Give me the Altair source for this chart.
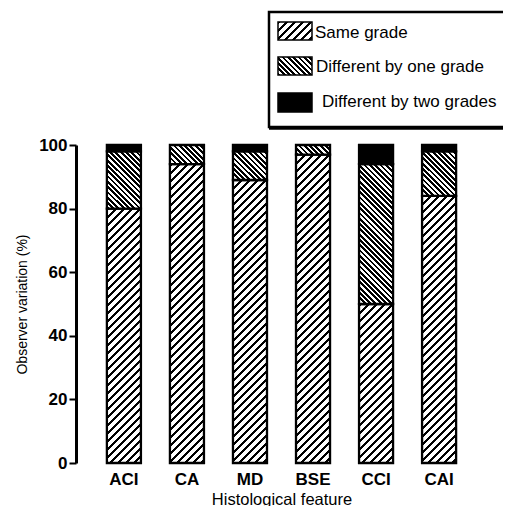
import altair as alt
import pandas as pd

features = ["ACI", "CA", "MD", "BSE", "CCI", "CAI"]
same_grade = [80, 94, 89, 97, 50, 84]
one_grade = [18, 6, 9, 3, 44, 14]
two_grades = [2, 0, 2, 0, 6, 2]
grades = ["Same grade", "Different by one grade", "Different by two grades"]
y_ticks = [0, 20, 40, 60, 80, 100]

WIDTH, HEIGHT = 411, 318
PX = HEIGHT / 100.0
BAR_W = 34.0
FONT = "Liberation Sans"

rows = []
for i, f in enumerate(features):
    for k, (g, vals) in enumerate(zip(grades, [same_grade, one_grade, two_grades])):
        rows.append({"feature": f, "grade": g, "order": k, "value": vals[i]})
df = pd.DataFrame(rows)


def hatch(w, h, period, black, slant):
    L = w + h
    s = L / (w * w + h * h)
    if slant == "/":
        x1, y1, x2, y2 = 0, 0, w * s, h * s
    else:
        x1, y1, x2, y2 = 0, 1, w * s, 1 - h * s
    stops = []
    pos = 0.0
    while pos < L:
        a = pos / L
        b = min((pos + black) / L, 1)
        c = min((pos + period) / L, 1)
        stops += [
            alt.GradientStop(offset=a, color="black"),
            alt.GradientStop(offset=b, color="black"),
            alt.GradientStop(offset=b, color="white"),
            alt.GradientStop(offset=c, color="white"),
        ]
        pos += period
    return alt.LinearGradient(gradient="linear", stops=stops, x1=x1, y1=y1, x2=x2, y2=y2)


def fill_for(grade, w, h):
    if grade == grades[0]:
        return hatch(w, h, 8.0, 3.0, "/")
    if grade == grades[1]:
        return hatch(w, h, 5.3, 2.8, "\\")
    return "black"


x_enc = alt.X(
    "feature:N",
    sort=features,
    scale=alt.Scale(paddingInner=0.46, paddingOuter=0.49),
    axis=alt.Axis(
        labelAngle=0, domain=False, ticks=False, labelFontSize=17,
        labelFontWeight="bold", labelFont=FONT, labelColor="black", labelPadding=8,
        title="Histological feature", titleFontSize=16.5, titleFontWeight="normal",
        titleFont=FONT, titleColor="black", titlePadding=4,
    ),
)
y_enc = alt.Y(
    "y0:Q",
    scale=alt.Scale(domain=[0, 100], nice=False),
    axis=alt.Axis(
        values=y_ticks, grid=False, domainWidth=3, domainColor="black",
        tickColor="black", tickWidth=2, tickSize=7, labelFontSize=17,
        labelFontWeight="bold", labelFont=FONT, labelColor="black", labelPadding=2,
        title="Observer variation (%)", titleFontSize=14, titleFontWeight="normal",
        titleFont=FONT, titleColor="black", titlePadding=9,
    ),
)

base = alt.Chart(df).transform_stack(
    stack="value", groupby=["feature"], as_=["y0", "y1"],
    sort=[alt.SortField("order", order="ascending")],
)

layers = []

# legend box
one = pd.DataFrame({"k": [0]})
layers.append(
    alt.Chart(one).mark_rect(fill="white", stroke="black", strokeWidth=2.5).encode(
        x=alt.value(193), x2=alt.value(450), y=alt.value(-133), y2=alt.value(-18)
    )
)
layers.append(
    alt.Chart(one).mark_rule(color="black", strokeWidth=3.5).encode(
        x=alt.value(193), x2=alt.value(450), y=alt.value(-17)
    )
)

legend_df = pd.DataFrame({"grade": grades})
sw_y = [(-123, -105), (-88, -70), (-52, -33)]
tx = [239, 240, 246]
ty = [-112, -78, -43]
for i, g in enumerate(grades):
    y0p, y1p = sw_y[i]
    layers.append(
        alt.Chart(legend_df).transform_filter(alt.datum.grade == g)
        .mark_rect(fill=fill_for(g, 34, y1p - y0p), stroke="black", strokeWidth=1.5)
        .encode(x=alt.value(202), x2=alt.value(236), y=alt.value(y0p), y2=alt.value(y1p))
    )
    layers.append(
        alt.Chart(legend_df).transform_filter(alt.datum.grade == g)
        .mark_text(align="left", baseline="middle", font=FONT, fontSize=17, color="black")
        .encode(text="grade:N", x=alt.value(tx[i]), y=alt.value(ty[i]))
    )

# bars
for _, r in df.iterrows():
    if r["value"] <= 0:
        continue
    h = r["value"] * PX
    layers.append(
        base.transform_filter(
            (alt.datum.feature == r["feature"]) & (alt.datum.grade == r["grade"])
        )
        .mark_bar(fill=fill_for(r["grade"], BAR_W, h), stroke="black", strokeWidth=2.3)
        .encode(x=x_enc, y=y_enc, y2="y1:Q")
    )

chart = (
    alt.layer(*layers)
    .properties(
        width=WIDTH, height=HEIGHT,
        autosize=alt.AutoSizeParams(type="none"),
        padding={"left": 68, "top": 137, "right": 16, "bottom": 43},
    )
    .configure_view(stroke=None)
)

chart.save("out.html", embed_options={"renderer": "svg", "actions": False})
